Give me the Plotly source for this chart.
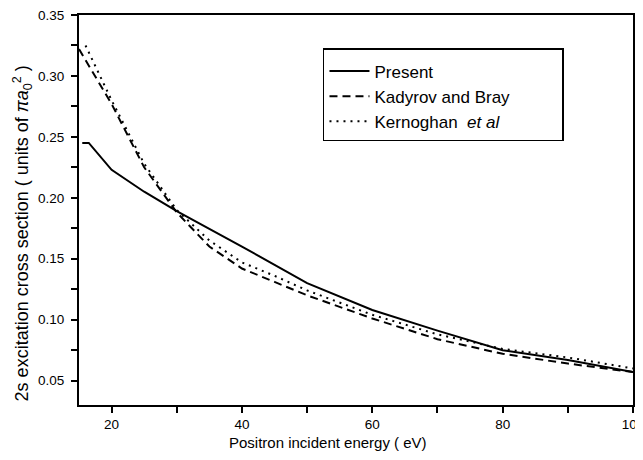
import plotly.graph_objects as go

# Data
present_x = [15.5, 16.5, 20, 25, 30, 40, 50, 60, 70, 80, 90, 100]
present_y = [0.245, 0.245, 0.223, 0.205, 0.189, 0.160, 0.130, 0.108, 0.091, 0.075, 0.067, 0.057]

kadyrov_x = [15, 20, 25, 30, 35, 40, 45, 50, 60, 70, 80, 90, 100]
kadyrov_y = [0.322, 0.277, 0.225, 0.188, 0.160, 0.142, 0.131, 0.120, 0.101, 0.084, 0.072, 0.064, 0.057]

kernoghan_x = [16, 20, 25, 30, 35, 40, 45, 50, 60, 70, 80, 90, 100]
kernoghan_y = [0.325, 0.280, 0.228, 0.190, 0.165, 0.147, 0.136, 0.124, 0.104, 0.088, 0.076, 0.069, 0.060]

x_ticks = [20, 40, 60, 80, 100]
y_ticks = [0.05, 0.10, 0.15, 0.20, 0.25, 0.30, 0.35]
y_tick_labels = ["0.05", "0.10", "0.15", "0.20", "0.25", "0.30", "0.35"]

x_title = "Positron incident energy ( eV)"
y_title = "2s excitation cross section ( units of <i>πa</i><sub>0</sub><sup>2</sup> )"

FONT = "Liberation Sans, Arial, sans-serif"
PAD = "\u00a0" * 10

fig = go.Figure()
fig.add_trace(go.Scatter(x=present_x, y=present_y, mode="lines", name="Present",
                         line=dict(color="black", width=2, dash="solid")))
fig.add_trace(go.Scatter(x=kadyrov_x, y=kadyrov_y, mode="lines", name="Kadyrov and Bray" + PAD,
                         line=dict(color="black", width=2, dash="8px,5px")))
fig.add_trace(go.Scatter(x=kernoghan_x, y=kernoghan_y, mode="lines",
                         name="Kernoghan  <i>et al</i>",
                         line=dict(color="black", width=2, dash="2px,5px")))

axis_common = dict(showline=True, linecolor="black", linewidth=2, mirror=True,
                   showgrid=False, zeroline=False, ticks="outside", ticklen=6,
                   tickwidth=1.5, tickcolor="black", automargin=False,
                   ticklabeloverflow="allow",
                   tickfont=dict(family=FONT, size=13.5, color="black"))

fig.update_xaxes(range=[15, 100], tickvals=x_ticks,
                 minor=dict(ticks="outside", ticklen=6, tickwidth=1.5, tickcolor="black",
                            tickvals=[30, 50, 70, 90]),
                 **axis_common)
fig.update_yaxes(range=[0.03, 0.35], tickvals=y_ticks, ticktext=y_tick_labels,
                 ticklabelstandoff=4,
                 minor=dict(ticks="outside", ticklen=6, tickwidth=1.5, tickcolor="black",
                            tickvals=[0.075, 0.125, 0.175, 0.225, 0.275, 0.325]),
                 **axis_common)

fig.add_annotation(text=x_title, xref="paper", yref="paper", x=0.4486, y=-0.097,
                   xanchor="center", yanchor="middle", showarrow=False,
                   font=dict(family=FONT, size=15, color="black"))
fig.add_annotation(text=y_title, xref="paper", yref="paper", x=-0.1029, y=0.44,
                   xanchor="center", yanchor="middle", showarrow=False, textangle=-90,
                   font=dict(family=FONT, size=18, color="black"))

fig.update_layout(
    width=635, height=452,
    margin=dict(l=71, r=10, t=7, b=55),
    plot_bgcolor="white", paper_bgcolor="white",
    showlegend=True,
    legend=dict(x=0.4404, y=0.915, xanchor="left", yanchor="top",
                bordercolor="black", borderwidth=1.5, bgcolor="white",
                font=dict(family=FONT, size=17, color="black"),
                itemwidth=40,
                title=dict(text=" ", font=dict(size=3))),
)

fig.write_html("out.html")
